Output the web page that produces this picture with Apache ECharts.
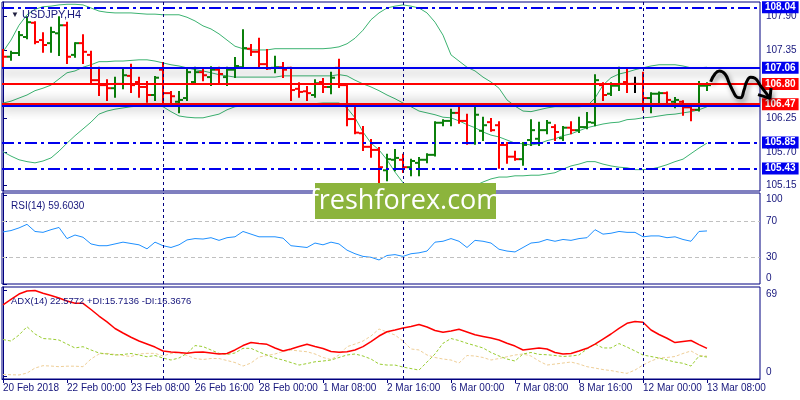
<!DOCTYPE html>
<html><head><meta charset="utf-8">
<script src="https://cdn.jsdelivr.net/npm/echarts@6/dist/echarts.min.js"></script>
<style>html,body{margin:0;padding:0;background:#fff}#c{width:800px;height:400px}</style>
</head><body><div id="c"></div>
<script>
// ---------- data ----------
const timeLabels = ['20 Feb 2018','22 Feb 00:00','23 Feb 08:00','26 Feb 16:00','28 Feb 00:00','1 Mar 08:00','2 Mar 16:00','6 Mar 00:00','7 Mar 08:00','8 Mar 16:00','12 Mar 00:00','13 Mar 08:00'];
const timeLabelBars = [0,8,16,24,32,40,48,56,64,72,80,88];
const weekSeparatorBars = [20,50,80];
const priceTicks = [105.15,105.70,106.25,107.35,107.90];
const rsiTicks = [0,30,70,100];
const rsiLevels = [30,70];
const adxTicks = [0,69];
const levelPrices = [108.04,107.06,106.80,106.47,106.44,105.85,105.43];

const open = [107.28,107.24,107.30,107.56,107.79,107.51,107.46,107.62,107.75,107.27,107.46,107.27,106.86,106.78,106.73,106.80,106.93,106.83,106.75,106.62,107.03,106.65,106.51,106.57,106.83,106.99,106.91,107.03,106.91,107.03,107.07,107.37,107.32,107.12,107.06,107.07,107.06,106.72,106.68,106.62,106.83,106.75,107.06,106.78,106.23,106.00,105.78,105.73,105.40,105.57,105.57,105.45,105.52,105.57,105.65,106.17,106.20,106.33,106.20,105.84,106.04,106.18,106.13,105.81,105.62,105.58,105.89,105.91,106.05,106.10,105.92,106.09,106.05,106.10,106.17,106.78,106.64,106.77,106.83,106.80,106.80,106.57,106.64,106.65,106.51,106.51,106.42,106.38,106.77];
const high = [107.35,107.32,107.64,107.88,107.80,107.62,107.71,107.88,107.79,107.46,107.59,107.32,107.06,106.86,106.90,107.03,107.11,106.90,106.83,106.91,107.14,106.67,106.67,107.03,107.06,107.03,107.07,107.06,107.06,107.22,107.67,107.43,107.53,107.35,107.24,107.14,107.06,106.81,106.75,106.86,106.88,106.98,107.19,106.78,106.42,106.10,105.89,105.76,105.65,105.73,105.65,105.57,105.60,105.66,106.18,106.21,106.38,106.46,106.30,106.43,106.25,106.23,106.18,105.84,105.70,105.84,106.21,106.17,106.20,106.13,106.10,106.18,106.25,106.33,106.94,106.81,106.81,107.06,107.03,106.90,106.98,106.65,106.66,106.66,106.57,106.52,106.43,106.83,106.81];
const low = [107.07,107.19,107.27,107.54,107.46,107.32,107.32,107.27,107.14,107.24,107.14,106.83,106.62,106.54,106.59,106.73,106.67,106.59,106.51,106.54,106.46,106.49,106.34,106.54,106.81,106.86,106.78,106.81,106.78,106.91,107.06,107.27,107.07,107.04,106.99,106.91,106.54,106.59,106.54,106.59,106.67,106.65,106.75,106.13,106.00,105.73,105.62,105.21,105.24,105.40,105.37,105.32,105.32,105.53,105.64,106.13,106.13,106.17,105.83,105.83,105.89,106.04,105.44,105.52,105.57,105.49,105.81,105.81,106.00,105.89,105.89,106.00,106.02,106.08,106.13,106.54,106.62,106.70,106.67,106.67,106.38,106.34,106.46,106.46,106.42,106.30,106.21,106.37,106.70];
const close = [107.24,107.30,107.59,107.80,107.48,107.43,107.64,107.75,107.24,107.46,107.32,106.86,106.78,106.73,106.80,106.94,106.78,106.75,106.62,106.90,106.65,106.60,106.54,106.99,106.99,106.94,107.03,106.96,107.03,107.09,107.38,107.32,107.12,107.05,107.07,107.03,106.70,106.67,106.65,106.81,106.75,106.90,106.78,106.23,106.01,105.78,105.73,105.45,105.58,105.60,105.45,105.55,105.57,105.65,106.17,106.20,106.33,106.20,105.84,106.30,106.13,106.05,105.81,105.62,105.58,105.81,106.05,106.05,106.17,106.02,106.09,106.05,106.10,106.18,106.86,106.62,106.77,106.80,106.80,106.80,106.57,106.64,106.65,106.54,106.54,106.42,106.38,106.77,106.78];

const bbUpper = [107.32,107.51,107.75,107.92,108.01,108.05,108.06,108.08,108.09,108.09,108.08,108.03,107.98,107.96,107.95,107.95,107.95,107.94,107.93,107.93,107.92,107.92,107.92,107.88,107.82,107.74,107.69,107.61,107.51,107.41,107.37,107.35,107.35,107.35,107.37,107.37,107.37,107.37,107.37,107.37,107.37,107.38,107.40,107.45,107.54,107.67,107.84,107.95,108.03,108.06,108.08,108.06,108.03,107.95,107.80,107.59,107.27,107.17,107.07,107.01,106.91,106.83,106.73,106.54,106.44,106.36,106.35,106.38,106.41,106.43,106.43,106.43,106.43,106.44,106.57,106.78,106.90,106.96,106.99,107.03,107.06,107.09,107.11,107.11,107.11,107.09,107.06,107.06,107.07];
const bbMiddle = [106.49,106.52,106.57,106.62,106.69,106.73,106.78,106.88,106.98,107.01,107.07,107.11,107.16,107.16,107.17,107.17,107.18,107.19,107.19,107.17,107.14,107.11,107.09,107.06,107.03,107.01,106.98,106.95,106.93,106.91,106.91,106.91,106.91,106.91,106.91,106.93,106.93,106.93,106.93,106.93,106.93,106.93,106.95,106.93,106.86,106.80,106.75,106.69,106.62,106.56,106.49,106.43,106.36,106.33,106.30,106.26,106.25,106.20,106.14,106.09,106.02,105.97,105.94,105.89,105.84,105.83,105.81,105.83,105.88,105.91,105.96,105.99,106.04,106.09,106.12,106.15,106.17,106.18,106.22,106.23,106.25,106.26,106.28,106.30,106.31,106.33,106.35,106.38,106.43];
const bbLower = [105.70,105.63,105.57,105.54,105.52,105.55,105.60,105.71,105.84,105.96,106.07,106.18,106.31,106.36,106.39,106.41,106.43,106.44,106.45,106.46,106.43,106.35,106.28,106.26,106.25,106.25,106.28,106.31,106.38,106.43,106.44,106.46,106.46,106.46,106.46,106.46,106.46,106.46,106.46,106.48,106.49,106.49,106.49,106.41,106.25,106.02,105.84,105.73,105.57,105.37,105.20,105.03,104.95,104.92,104.92,104.95,104.98,105.03,105.08,105.15,105.21,105.26,105.29,105.29,105.31,105.31,105.32,105.32,105.34,105.36,105.42,105.47,105.50,105.54,105.54,105.50,105.47,105.45,105.44,105.41,105.41,105.42,105.45,105.49,105.54,105.58,105.67,105.76,105.84];

const rsi = [58.5,60,63,67,59,58,61,63.5,51,55,52.5,45,43,43,45,47,45.5,44,39.5,47,43,41,44,49.5,51,50.5,52,49,52,53,59,56,53,53,53,51.5,43,42,41,46,44,47,45,38,34,31,30,27,32,33,31,34,35,37,47,48,51,48,41,49,48,46,39,37,36,41,46,47,50,48,50,49,51,52,61,56,57,59,58,58,53,54,54,52,53,50,48,59,59.6];
const adx = [57.1,61.5,65.8,68.2,68.6,66.4,64.6,62.7,60.3,58.4,58.4,53.5,48.3,43.6,38.4,34.8,31.4,28.4,26.0,23.6,20.5,19.7,19.3,18.6,19.4,19.7,18.9,18.1,18.5,21.3,24.8,27.2,26.4,25.8,22.9,20.5,22.1,24.0,25.8,24.0,22.5,20.1,19.5,19.9,21.3,24.0,28.0,32.4,35.8,37.2,38.8,40.0,41.6,39.6,36.8,35.4,36.4,37.8,35.6,33.4,32.1,30.8,29.2,26.6,24.4,21.3,22.1,22.9,22.1,19.3,18.1,18.5,20.5,22.6,26.0,30.0,34.0,38.4,42.5,43.9,43.3,37.2,33.6,30.6,27.2,28.0,28.8,25.6,22.58];
const plusDI = [29.6,28.4,33.2,39.8,34.0,30.4,30.0,29.2,26.0,22.9,23.9,21.3,18.9,18.1,17.3,17.7,18.5,17.3,15.9,16.9,14.9,13.3,14.9,18.6,24.8,24.0,21.3,18.6,17.7,18.9,22.6,22.6,19.7,17.3,14.9,13.3,11.3,9.3,10.5,11.9,12.5,13.3,15.3,17.3,18.1,16.5,14.1,10.1,9.3,9.3,7.7,6.5,5.3,11.7,18.1,26.6,30.4,28.8,26.6,24.8,22.9,19.3,16.5,14.1,12.5,18.1,19.3,17.8,17.5,16.9,16.1,16.5,17.3,22.1,26.0,22.9,22.9,26.4,23.6,20.5,17.3,16.1,14.9,13.3,11.7,10.7,8.5,16.5,15.71];
const minusDI = [1.8,1.6,1.4,2.9,6.9,8.8,8.5,8.0,8.4,8.4,8.0,14.1,18.1,18.6,17.7,16.9,16.1,18.1,18.6,18.6,16.5,18.5,19.3,16.9,14.5,13.7,14.5,14.5,12.9,11.3,8.5,10.9,15.7,16.9,18.1,20.1,21.3,20.5,19.9,18.1,15.3,13.7,17.3,23.9,26.0,28.4,32.4,38.0,35.6,33.2,28.4,22.1,21.3,17.3,15.3,14.1,13.3,10.9,16.9,16.5,15.3,13.3,14.5,15.9,17.3,18.1,16.5,12.5,9.3,10.1,10.9,11.7,10.1,8.0,6.9,5.7,4.9,3.7,2.7,5.3,9.3,12.5,14.9,15.3,16.1,18.5,20.5,16.9,16.37];

// hand-drawn forecast path (bar index, price)
const forecastBars = [88.46,88.99,89.54,90.25,90.79,91.29,91.79,92.21,92.63,92.96,93.46,94.0,94.63,95.25,95.88];
const forecastPrices = [106.835,106.96,107.008,106.96,106.809,106.673,106.582,106.576,106.70,106.835,106.906,106.89,106.781,106.673,106.566];
const arrowHeadBars = [94.38,95.88,96.0];
const arrowHeadPrices = [106.627,106.566,106.733];

// ---------- chart ----------
const NAVY = '#000080', TXT = '#16167c', BLUE = '#0000ee', RED = '#ff0000';
const FONT = 'Liberation Sans';
const X_MIN = -0.125, X_MAX = 94.625, X_MAX_FULL = 99.625;
const Y_MIN = 105.064, Y_MAX = 108.127;
const pairs = arr => arr.map((v, i) => [i, v]);
const ohlc = open.map((o, i) => [i, o, high[i], low[i], close[i]]);

const levelLook = [
  {color: BLUE, type: [12,4,3,4], label: true},
  {color: BLUE, type: 'solid', label: true, shadow: {shadowColor:'rgba(0,0,0,0.45)', shadowBlur:10, shadowOffsetY:5}},
  {color: RED, type: 'solid', label: true},
  {color: RED, type: 'solid', label: true, shadow: {shadowColor:'rgba(0,0,0,0.45)', shadowBlur:10, shadowOffsetY:-3}},
  {color: BLUE, type: 'solid', label: false, shadow: {shadowColor:'rgba(0,0,0,0.45)', shadowBlur:10, shadowOffsetY:3}},
  {color: BLUE, type: [12,4,3,4], label: true},
  {color: BLUE, type: [12,4,3,4], label: true}
];
const levelLines = levelPrices.map((p, k) => {
  const lk = levelLook[k];
  return {
    yAxis: p,
    lineStyle: Object.assign({color: lk.color, type: lk.type, width: 2}, lk.shadow || {}),
    label: lk.label ? {show: true, position: 'end', distance: 2, formatter: () => p.toFixed(2),
      backgroundColor: lk.color, color: '#fff', fontFamily: FONT, fontSize: 10, fontWeight: 'bold',
      padding: [1, 3, 0, 3], lineHeight: 11} : {show: false}
  };
});
const sepLines = weekSeparatorBars.map(b => ({xAxis: b, lineStyle: {color: NAVY, type: [3,3], width: 1}, label: {show: false}}));

const grids = [
  {left: 2, right: 40, top: 2, height: 189, show: true},
  {left: 2, right: 40, top: 193, height: 91, show: true},
  {left: 2, right: 40, top: 287, height: 92, show: true},
  {left: 2, right: 0, top: 2, height: 189, show: false}
].map(g => Object.assign(g, {borderColor: NAVY, borderWidth: 1, backgroundColor: '#fff'}));

const hiddenX = (gi, max) => ({gridIndex: gi, type: 'value', min: X_MIN, max: max || X_MAX, show: false});
const yBase = (gi, min, max, ticks, fmt, rich) => ({
  gridIndex: gi, type: 'value', position: 'right', min: min, max: max,
  splitLine: {show: false},
  axisLine: {show: true, lineStyle: {color: NAVY}},
  axisTick: {show: true, customValues: ticks, length: 4, lineStyle: {color: NAVY}},
  axisLabel: {customValues: ticks, formatter: fmt, color: TXT, fontFamily: FONT, fontSize: 10, margin: 6, rich: rich || {}}
});

function renderOHLC(params, api) {
  const i = api.value(0);
  const o = api.coord([i, api.value(1)]);
  const h = api.coord([i, api.value(2)]);
  const l = api.coord([i, api.value(3)]);
  const c = api.coord([i, api.value(4)]);
  const x = Math.round(h[0]);
  const col = api.value(4) > api.value(1) ? '#0b800b' : (api.value(4) < api.value(1) ? '#ff0000' : '#000000');
  const st = {stroke: col, lineWidth: 2};
  return {type: 'group', children: [
    {type: 'line', shape: {x1: x, y1: h[1] - 1, x2: x, y2: l[1] + 1}, style: st},
    {type: 'line', shape: {x1: x - 4, y1: o[1], x2: x, y2: o[1]}, style: st},
    {type: 'line', shape: {x1: x, y1: c[1], x2: x + 4, y2: c[1]}, style: st}
  ]};
}

const bbStyle = {color: '#3cb371', width: 1};
const waveStyle = {color: '#000', width: 3, shadowColor: 'rgba(0,0,0,0.4)', shadowBlur: 5, shadowOffsetX: 2, shadowOffsetY: 3};
const option = {
  animation: false,
  title: [
    {text: '{t|▼} USDJPY,H4', left: 6, top: 4, textStyle: {color: TXT, fontFamily: FONT, fontSize: 11, fontWeight: 'normal', rich: {t: {fontSize: 8, color: '#202040'}}}},
    {text: 'RSI(14) 59.6030', left: 6, top: 196, textStyle: {color: TXT, fontFamily: FONT, fontSize: 10, fontWeight: 'normal'}},
    {text: 'ADX(14) 22.5772 +DI:15.7136 -DI:16.3676', left: 6, top: 291, textStyle: {color: TXT, fontFamily: FONT, fontSize: 9.5, fontWeight: 'normal'}}
  ],
  grid: grids,
  xAxis: [hiddenX(0), hiddenX(1), {
    gridIndex: 2, type: 'value', min: X_MIN, max: X_MAX, splitLine: {show: false},
    axisLine: {show: true, onZero: false, lineStyle: {color: NAVY}},
    axisTick: {show: true, customValues: timeLabelBars, length: 4, lineStyle: {color: NAVY}},
    axisLabel: {customValues: timeLabelBars, formatter: v => { const k = timeLabelBars.indexOf(Math.round(v)); return k >= 0 ? timeLabels[k] : ''; },
      align: 'left', color: TXT, fontFamily: FONT, fontSize: 10, margin: 4}
  }, hiddenX(3, X_MAX_FULL)],
  yAxis: [
    yBase(0, Y_MIN, Y_MAX, priceTicks, v => v.toFixed(2)),
    yBase(1, 0, 102.2, rsiTicks, v => v === 100 ? '{d|100}' : (v === 0 ? '{u|0}' : String(v)), {d: {padding: [8,0,0,0]}, u: {padding: [0,0,12,0]}}),
    yBase(2, -1.8, 71.4, adxTicks, v => v === 69 ? '{d|69}' : '{u|0}', {d: {padding: [8,0,0,0]}, u: {padding: [0,0,9,0]}}),
    {gridIndex: 3, type: 'value', min: Y_MIN, max: Y_MAX, show: false}
  ],
  graphic: [
    {type: 'rect', shape: {x: 315, y: 183, width: 181, height: 36}, style: {fill: '#8cb43c'}, z: 100},
    {type: 'text', x: 405.5, y: 201, z: 101, style: {text: 'freshforex.com', fill: '#ffffff', font: '27px "Open Sans"', textAlign: 'center', textVerticalAlign: 'middle', align: 'center', verticalAlign: 'middle'}}
  ],
  series: [
    {type: 'line', xAxisIndex: 0, yAxisIndex: 0, data: [], z: 1,
      markLine: {silent: true, symbol: ['none','none'], animation: false, data: sepLines.concat(levelLines)}},
    {type: 'line', xAxisIndex: 0, yAxisIndex: 0, data: pairs(bbUpper), showSymbol: false, lineStyle: bbStyle, z: 2},
    {type: 'line', xAxisIndex: 0, yAxisIndex: 0, data: pairs(bbMiddle), showSymbol: false, lineStyle: bbStyle, z: 2},
    {type: 'line', xAxisIndex: 0, yAxisIndex: 0, data: pairs(bbLower), showSymbol: false, lineStyle: bbStyle, z: 2},
    {type: 'custom', xAxisIndex: 0, yAxisIndex: 0, data: ohlc, renderItem: renderOHLC, z: 3, clip: true},
    {type: 'line', xAxisIndex: 3, yAxisIndex: 3, data: forecastBars.map((b, k) => [b, forecastPrices[k]]), smooth: 0.5, showSymbol: false, z: 20, lineStyle: waveStyle},
    {type: 'line', xAxisIndex: 3, yAxisIndex: 3, data: arrowHeadBars.map((b, k) => [b, arrowHeadPrices[k]]), showSymbol: false, z: 20, lineStyle: waveStyle},
    // RSI
    {type: 'line', xAxisIndex: 1, yAxisIndex: 1, data: pairs(rsi), showSymbol: false, lineStyle: {color: '#1e90ff', width: 1}, z: 3,
      markLine: {silent: true, symbol: ['none','none'], animation: false,
        data: rsiLevels.map(v => ({yAxis: v, lineStyle: {color: '#c0c0c0', type: [4,3], width: 1}, label: {show: false}})).concat(sepLines)}},
    // ADX
    {type: 'line', xAxisIndex: 2, yAxisIndex: 2, data: pairs(minusDI), showSymbol: false, lineStyle: {color: '#efcf98', width: 1, type: [3,2]}, z: 2,
      markLine: {silent: true, symbol: ['none','none'], animation: false, data: sepLines}},
    {type: 'line', xAxisIndex: 2, yAxisIndex: 2, data: pairs(plusDI), showSymbol: false, lineStyle: {color: '#9acd32', width: 1, type: [3,2]}, z: 3},
    {type: 'line', xAxisIndex: 2, yAxisIndex: 2, data: pairs(adx), showSymbol: false, lineStyle: {color: '#ff0000', width: 1.5}, z: 4}
  ]
};
echarts.init(document.getElementById('c'), null, {renderer: 'canvas'}).setOption(option);
</script></body></html>
